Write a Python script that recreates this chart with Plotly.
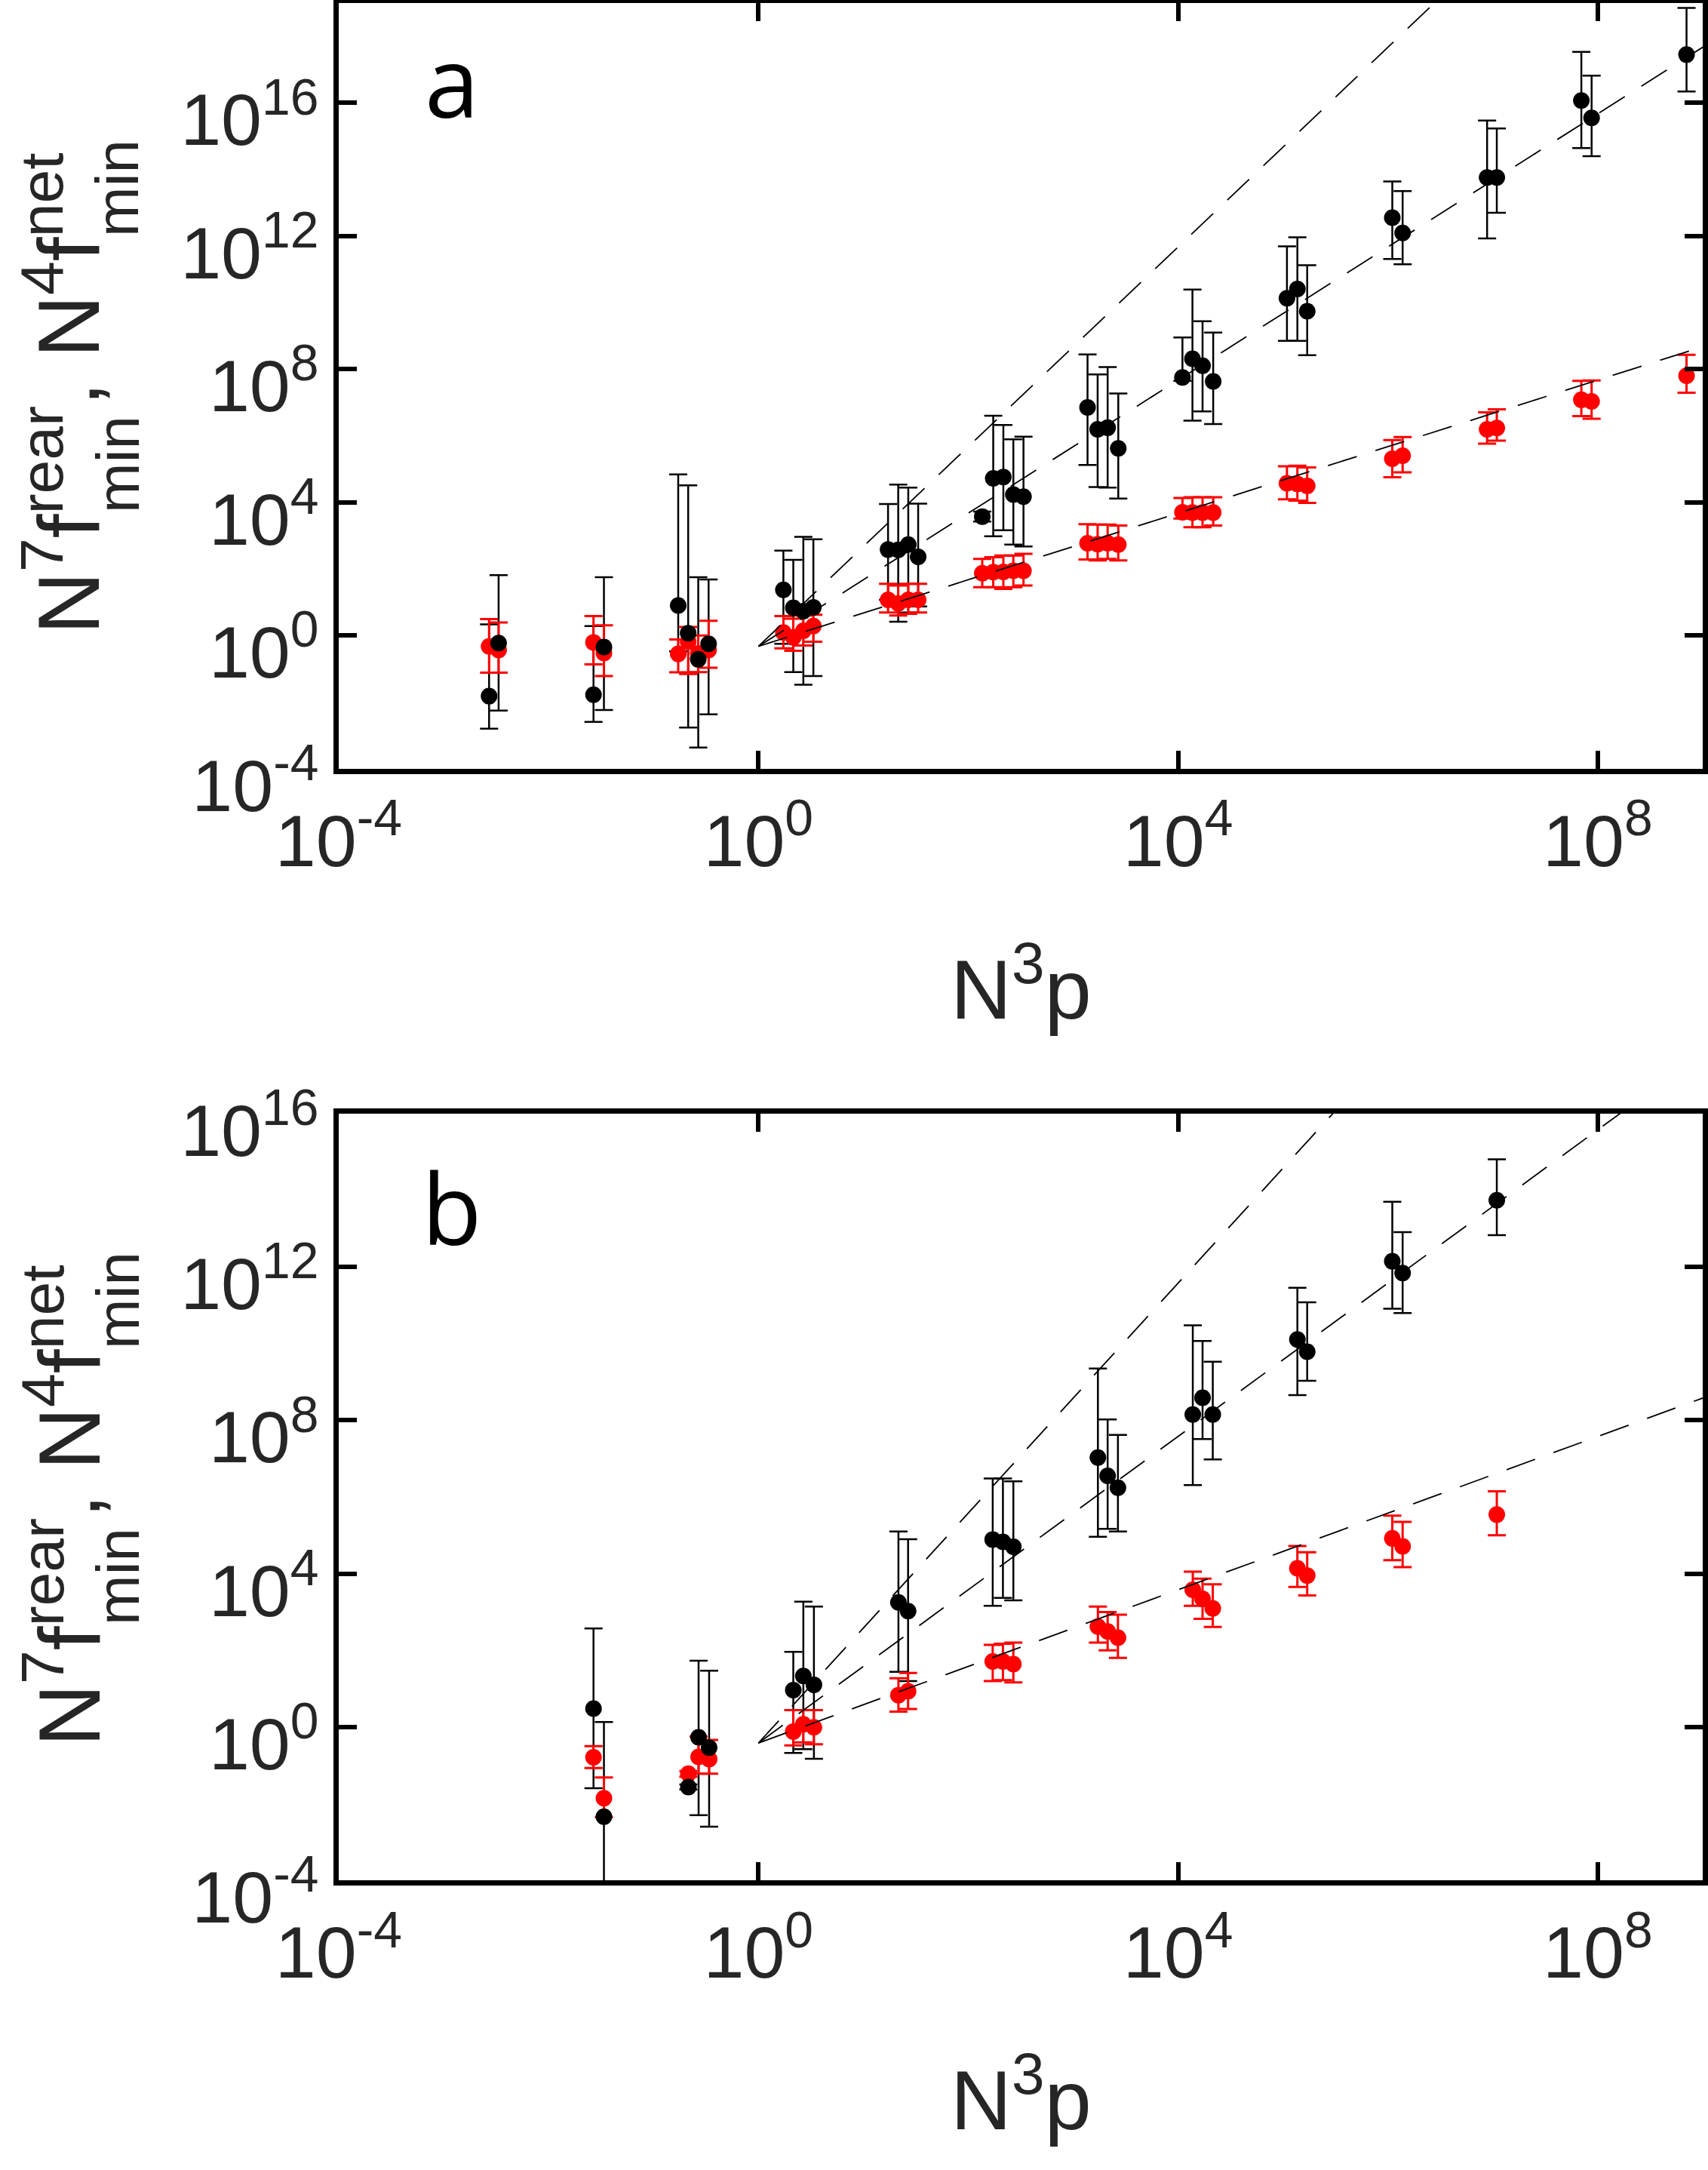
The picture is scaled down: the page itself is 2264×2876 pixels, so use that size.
import plotly.graph_objects as go

# ---------------- data ----------------
# Panel a
a_x = [2.71e-3, 3.34e-3, 2.68e-2, 3.37e-2, 0.172, 0.214, 0.267, 0.335,
       1.73, 2.15, 2.68, 3.34, 17.2, 21.5, 26.8, 33.3,
       136, 173, 216, 269, 336, 1370, 1710, 2130, 2690,
       1.10e4, 1.37e4, 1.71e4, 2.16e4, 1.09e5, 1.37e5, 1.70e5,
       1.10e6, 1.38e6, 8.81e6, 1.09e7, 6.97e7, 8.73e7, 7.01e8]
a_black = [1.50e-2, 0.592, 1.66e-2, 0.447, 7.94, 1.17, 0.191, 0.562,
           23.4, 6.76, 5.37, 6.92, 380, 372, 537, 229,
           3720, 5.25e4, 5.75e4, 1.70e4, 1.48e4, 7.08e6, 1.55e6, 1.74e6, 4.17e5,
           5.62e7, 2.04e8, 1.26e8, 4.27e7, 1.35e10, 2.57e10, 5.50e9,
           3.55e12, 1.23e12, 5.75e13, 5.75e13, 1.17e16, 3.55e15, 2.82e17]
a_black_hi = [2.14, 64.6, 1.91, 56.2, 6.92e4, 3.24e4, 56.2, 47.9,
              355, 186, 912, 776, 8910, 3.39e4, 2.75e4, 9120,
              5250, 3.98e6, 2.09e6, 7.76e5, 9.33e5, 2.75e8, 6.92e7, 1.15e8, 1.86e7,
              8.91e8, 2.45e10, 2.75e9, 1.26e9, 4.90e11, 9.12e11, 1.32e11,
              4.37e13, 2.24e13, 2.95e15, 1.70e15, 3.39e17, 6.61e16, 7.08e18]
a_black_lo = [1.58e-3, 5.50e-3, 2.51e-3, 5.75e-3, 0.331, 1.70e-3, 4.27e-4, 4.27e-3,
              0.562, 7.94e-2, 3.31e-2, 6.03e-2, 11.7, 2.57, 4.90, 7.41,
              2630, 955, 1450, 537, 468, 1.32e5, 2.88e4, 2.75e4, 1.29e4,
              4.47e7, 2.82e6, 5.37e6, 2.24e6, 7.08e8, 7.08e8, 2.63e8,
              2.04e11, 1.41e11, 8.51e11, 5.01e12, 4.37e14, 2.51e14, 2.19e16]
a_red = [0.468, 0.363, 0.617, 0.295, 0.279, 0.646, 0.288, 0.363,
         1.23, 0.871, 1.38, 1.91, 11.7, 9.12, 11.7, 11.7,
         74.1, 79.4, 81.3, 87.1, 87.1, 589, 550, 589, 537,
         5010, 4900, 4900, 4900, 3.72e4, 3.55e4, 3.09e4,
         2.04e5, 2.51e5, 1.55e6, 1.70e6, 1.20e7, 1.07e7, 6.31e7]
a_red_hi = [3.09, 2.45, 3.80, 2.00, 0.759, 1.78, 1.00, 2.75,
            3.80, 3.16, 3.98, 4.17, 35.5, 31.6, 35.5, 35.5,
            200, 224, 251, 251, 282, 2190, 2140, 2140, 2000,
            1.35e4, 1.41e4, 1.41e4, 1.41e4, 1.20e5, 1.26e5, 1.12e5,
            7.41e5, 9.12e5, 5.01e6, 6.17e6, 4.47e7, 4.57e7, 2.69e8]
a_red_lo = [7.59e-2, 7.59e-2, 0.135, 6.03e-2, 7.76e-2, 6.92e-2, 7.94e-2, 0.107,
            0.407, 0.347, 0.501, 0.646, 4.90, 3.98, 4.47, 4.90,
            28.2, 28.2, 25.1, 28.2, 31.6, 191, 178, 200, 178,
            3240, 1780, 1780, 2000, 1.23e4, 1.12e4, 9550,
            5.62e4, 7.94e4, 5.75e5, 7.08e5, 3.89e6, 3.24e6, 1.95e7]

# Panel b
b_x = [2.68e-2, 3.37e-2, 0.215, 0.269, 0.339, 2.15, 2.68, 3.38,
       21.6, 26.7, 171, 214, 269, 1720, 2130, 2670,
       1.38e4, 1.71e4, 2.14e4, 1.37e5, 1.70e5, 1.10e6, 1.38e6, 1.09e7]
b_black = [3.02, 4.57e-3, 2.69e-2, 0.537, 0.288, 9.12, 21.4, 12.6,
           1780, 1050, 7.76e4, 6.76e4, 5.01e4, 1.07e7, 3.55e6, 1.74e6,
           1.41e8, 3.89e8, 1.41e8, 1.29e10, 6.17e9, 1.41e12, 6.92e11, 5.50e13]
b_black_hi = [372, 1.35, 3.16e-2, 53.7, 29.5, 91.2, 1860, 1380,
              1.26e5, 7.94e4, 3.02e6, 3.02e6, 2.57e6, 2.24e9, 1.05e8, 4.17e7,
              3.02e10, 1.17e10, 3.39e9, 2.88e11, 1.20e11, 5.01e13, 8.13e12, 6.46e14]
b_black_lo = [2.51e-2, 1e-6, 2.34e-2, 5.01e-3, 2.51e-3, 0.209, 0.263, 0.148,
              27.5, 15.8, 1450, 2340, 2000, 9.12e4, 1.48e5, 1.26e5,
              2.04e6, 3.24e7, 9.55e6, 4.57e8, 1.07e9, 8.13e10, 6.31e10, 6.76e12]
b_red = [0.162, 1.38e-2, 6.03e-2, 0.166, 0.145, 0.759, 1.17, 0.977,
         6.76, 8.51, 51.3, 51.3, 43.7, 417, 309, 214,
         3800, 2190, 1230, 1.38e4, 8910, 8.32e4, 5.13e4, 3.47e5]
b_red_hi = [0.316, 4.79e-2, 7.08e-2, 0.562, 0.457, 2.75, 2.75, 2.75,
            18.6, 25.7, 138, 148, 158, 1380, 1000, 851,
            1.12e4, 7410, 5250, 5.25e4, 3.63e4, 3.24e5, 2.24e5, 1.41e6]
b_red_lo = [8.51e-2, 4.47e-3, 5.01e-2, 6.03e-2, 6.03e-2, 0.331, 0.398, 0.355,
            2.51, 2.95, 15.8, 16.6, 14.5, 158, 100, 63.1,
            1450, 661, 407, 4470, 2690, 2.24e4, 1.48e4, 1.00e5]

# dashed power-law guide lines (slopes 3, 2, 1), endpoints
fit_x = [1.0, 1e9]
a_fit_cubic = [0.47, 4.7e26]
a_fit_square = [0.47, 4.7e17]
a_fit_linear = [0.47, 4.7e8]
b_fit_cubic = [0.38, 3.8e26]
b_fit_square = [0.38, 3.8e17]
b_fit_linear = [0.38, 3.8e8]

x_tickvals = [1e-4, 1, 1e4, 1e8]
x_ticktext = ["10<sup>-4</sup>", "10<sup>0</sup>", "10<sup>4</sup>", "10<sup>8</sup>"]
y_tickvals = [1e-4, 1, 1e4, 1e8, 1e12, 1e16]
y_ticktext = ["10<sup>-4</sup>", "10<sup>0</sup>", "10<sup>4</sup>", "10<sup>8</sup>",
              "10<sup>12</sup>", "10<sup>16</sup>"]

# ---------------- figure ----------------
W, H = 2264, 2876
ML, MR, MT, MB = 449, 7, 4, 384
PW = W - ML - MR
PH = H - MT - MB


def px_x(X):
    return (X - ML) / PW


def px_y(Y):
    return (H - MB - Y) / PH


fig = go.Figure()
TEXT = "#262626"
FONT = "Liberation Sans, Arial, sans-serif"


def errs(v, hi, lo):
    return [h - c for h, c in zip(hi, v)], [c - l for c, l in zip(v, lo)]


def add_panel(xa, ya, x, by, bhi, blo, ry, rhi, rlo, fits):
    up, dn = errs(by, bhi, blo)
    fig.add_trace(go.Scatter(
        x=x, y=by, mode="markers", xaxis=xa, yaxis=ya,
        marker=dict(size=1, color="rgba(0,0,0,0)"),
        error_y=dict(type="data", symmetric=False, array=up, arrayminus=dn,
                     color="black", thickness=2.5, width=12),
        showlegend=False, hoverinfo="skip"))
    up, dn = errs(ry, rhi, rlo)
    fig.add_trace(go.Scatter(
        x=x, y=ry, mode="markers", xaxis=xa, yaxis=ya,
        marker=dict(size=22, color="#ff0000", line=dict(width=0)),
        error_y=dict(type="data", symmetric=False, array=up, arrayminus=dn,
                     color="#ff0000", thickness=3, width=12),
        showlegend=False))
    fig.add_trace(go.Scatter(
        x=x, y=by, mode="markers", xaxis=xa, yaxis=ya,
        marker=dict(size=22, color="black", line=dict(width=0)),
        showlegend=False))
    for fy in fits:
        fig.add_trace(go.Scatter(
            x=fit_x, y=fy, mode="lines", xaxis=xa, yaxis=ya,
            line=dict(color="black", width=1.8, dash="40px,26px"),
            showlegend=False, hoverinfo="skip"))


add_panel("x", "y", a_x, a_black, a_black_hi, a_black_lo,
          a_red, a_red_hi, a_red_lo, [a_fit_cubic, a_fit_square, a_fit_linear])
add_panel("x2", "y2", b_x, b_black, b_black_hi, b_black_lo,
          b_red, b_red_hi, b_red_lo, [b_fit_cubic, b_fit_square, b_fit_linear])

axis_common = dict(
    type="log", showgrid=False, zeroline=False, showline=True, automargin=False,
    linecolor="black", linewidth=7, mirror="ticks", ticks="inside",
    ticklen=24, tickwidth=6, tickcolor="black",
    tickfont=dict(family=FONT, size=97, color=TEXT), minor=dict(ticks=""))
x_common = dict(axis_common, range=[-4, 9], domain=[0, 1],
                tickvals=x_tickvals, ticktext=x_ticktext, ticklabelstandoff=6)
y_common = dict(axis_common, tickvals=y_tickvals, ticktext=y_ticktext,
                ticklabelshift=22, ticklabelstandoff=0)

panel_a_top, panel_a_bot = 4, 1018.6
panel_b_top, panel_b_bot = 1476, 2492

fig.update_layout(
    width=W, height=H, margin=dict(l=ML, r=MR, t=MT, b=MB, autoexpand=False),
    paper_bgcolor="white", plot_bgcolor="white", showlegend=False,
    xaxis=dict(x_common, anchor="y"),
    yaxis=dict(y_common, range=[-4, 19], anchor="x",
               domain=[px_y(panel_a_bot), px_y(panel_a_top)]),
    xaxis2=dict(x_common, anchor="y2"),
    yaxis2=dict(y_common, range=[-4, 16], anchor="x2",
                domain=[px_y(panel_b_bot), px_y(panel_b_top)]),
)

ann = []
for off, letter, ly in [(0, "a", 106), (1474, "b", 1600)]:
    # y-axis title (stacked super/subscripts built from pieces)
    ann.append(dict(text="N<sup>7</sup>f<sup>rear</sup>, N<sup>4</sup>f<sup>net</sup>",
                    x=px_x(83), y=px_y(522 + off), xref="paper", yref="paper",
                    textangle=-90, showarrow=False, xanchor="center", yanchor="middle",
                    font=dict(family=FONT, size=115, color=TEXT)))
    for yc in (616, 250):
        ann.append(dict(text="min", x=px_x(156), y=px_y(yc + off),
                        xref="paper", yref="paper", textangle=-90, showarrow=False,
                        xanchor="center", yanchor="middle",
                        font=dict(family=FONT, size=80, color=TEXT)))
    # panel letter
    ann.append(dict(text=letter, x=px_x(599), y=px_y(ly), xref="paper", yref="paper",
                    showarrow=False, xanchor="center", yanchor="middle",
                    font=dict(family="Open Sans, Liberation Sans", size=130, color="black")))

for yc in (1303, 2775):
    ann.append(dict(text="N<sup>3</sup>p", x=px_x(1353), y=px_y(yc),
                    xref="paper", yref="paper", showarrow=False,
                    xanchor="center", yanchor="middle",
                    font=dict(family=FONT, size=112, color=TEXT)))

fig.update_layout(annotations=ann)
fig.write_html("out.html")
